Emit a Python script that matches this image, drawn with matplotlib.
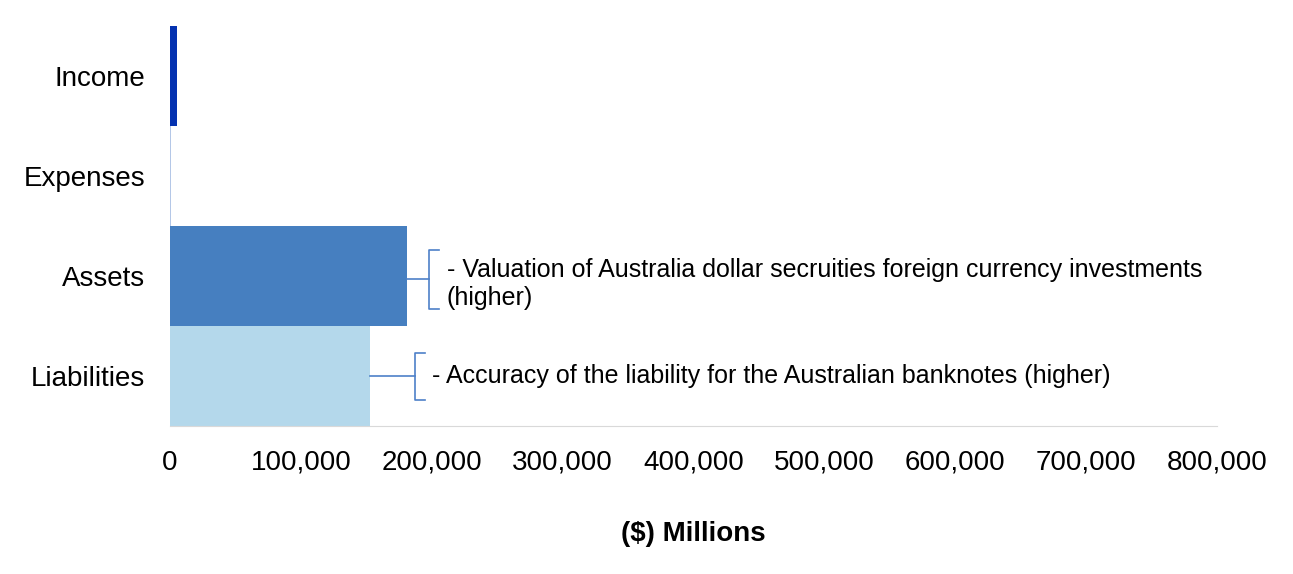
import matplotlib.pyplot as plt
from matplotlib.ticker import FuncFormatter

plt.rcParams['font.family'] = ['Liberation Sans', 'DejaVu Sans']

categories = ['Income', 'Expenses', 'Assets', 'Liabilities']
values = [5000, 700, 181000, 153000]
colors = ['#0432B0', '#B4C7E7', '#467FC0', '#B4D8EB']
xticks = [0, 100000, 200000, 300000, 400000, 500000, 600000, 700000, 800000]

notes = {
    'Assets': '- Valuation of Australia dollar secruities foreign currency investments\n(higher)',
    'Liabilities': '- Accuracy of the liability for the Australian banknotes (higher)',
}

fig = plt.figure(figsize=(12.93, 5.74), dpi=100)
ax = fig.add_axes([0.1315, 0.2578, 0.8097, 0.6969])

y = range(len(categories))
ax.barh(y, values, height=1.0, color=colors)
ax.set_ylim(3.5, -0.5)
ax.set_xlim(0, 800000)
ax.set_yticks(list(y))
ax.set_yticklabels(categories, fontsize=20)
ax.set_xticks(xticks)
ax.xaxis.set_major_formatter(FuncFormatter(lambda v, p: f'{int(v):,}'))
ax.tick_params(axis='x', labelsize=20, length=0, pad=17)
ax.tick_params(axis='y', length=0, pad=18)
for s in ['top', 'right', 'left']:
    ax.spines[s].set_visible(False)
ax.spines['bottom'].set_color('#D9D9D9')
ax.set_xlabel('($) Millions', fontsize=20, fontweight='bold', labelpad=33)

# bracket callouts
br_color = '#4E80C8'
brackets = {'Assets': (17000, 0.295, 0.03), 'Liabilities': (34000, 0.235, 0.0)}
for name, text in notes.items():
    i = categories.index(name)
    v = values[i]
    gap, half, off = brackets[name]
    xb = v + gap
    ax.plot([v, xb], [i + off, i + off], color=br_color, lw=1.2)
    ax.plot([xb + 7600, xb, xb, xb + 7600],
            [i + off - half, i + off - half, i + off + half, i + off + half],
            color=br_color, lw=1.2)
    ax.text(xb + 13500, i + off + (0.05 if '\n' in text else 0), text,
            fontsize=18, va='center', ha='left', linespacing=1.25)

fig.savefig('out.png', dpi=100)
